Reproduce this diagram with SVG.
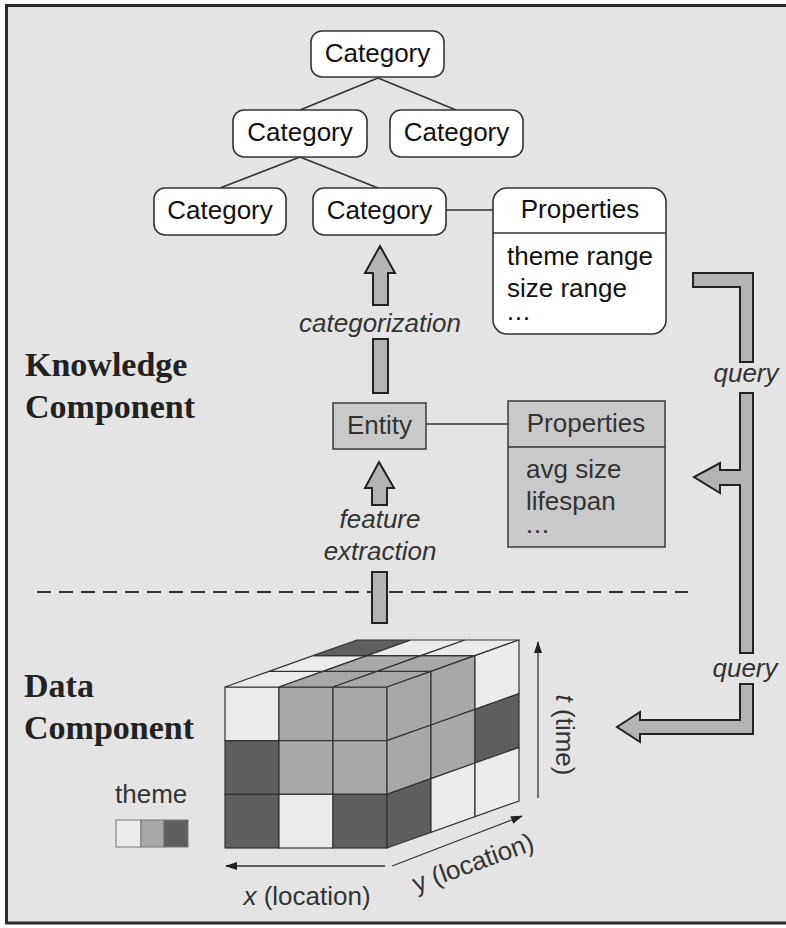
<svg xmlns="http://www.w3.org/2000/svg" width="786" height="928" viewBox="0 0 786 928">
  <defs>
    <style>
      .lbl { font-family: "Liberation Sans", Arial, sans-serif; font-size: 26px; fill: #111; }
      .dots { font-family: "Liberation Sans", Arial, sans-serif; font-size: 18px; font-weight: bold; letter-spacing: 3px; }
      .ital { font-family: "Liberation Sans", Arial, sans-serif; font-size: 26px; font-style: italic; fill: #333; }
      .head { font-family: "Liberation Serif", "Times New Roman", serif; font-size: 34px; font-weight: bold; fill: #222; }
      .cat { fill: #ffffff; stroke: #333; stroke-width: 1.6; }
      .gbox { fill: #c9c9c9; stroke: #444; stroke-width: 1.6; }
      .link { stroke: #333; stroke-width: 1.6; fill: none; }
      .band { fill: #b3b3b3; stroke: #222; stroke-width: 2; stroke-linejoin: miter; }
      .axis { stroke: #333; stroke-width: 1.3; fill: none; }
      .lt { fill: #ebebeb; stroke: #333; stroke-width: 1.2; }
      .md { fill: #a8a8a8; stroke: #333; stroke-width: 1.2; }
      .dk { fill: #5e5e5e; stroke: #333; stroke-width: 1.2; }
    </style>
    <marker id="tip" viewBox="0 0 12 8" refX="11" refY="4" markerWidth="12" markerHeight="8" markerUnits="userSpaceOnUse" orient="auto">
      <path d="M0,0 L12,4 L0,8 z" fill="#222"/>
    </marker>
  </defs>

  <!-- page and frame -->
  <rect x="0" y="0" width="786" height="928" fill="#ffffff"/>
  <rect x="6.5" y="5.5" width="790" height="917.5" fill="#e4e4e4" stroke="#2a2a2a" stroke-width="3"/>

  <!-- section titles -->
  <g id="title-knowledge">
    <text class="head" x="25" y="376">Knowledge</text>
    <text class="head" x="25" y="418">Component</text>
  </g>
  <g id="title-data">
    <text class="head" x="24" y="697">Data</text>
    <text class="head" x="24" y="739">Component</text>
  </g>

  <!-- boundary between the two components -->
  <line x1="37" y1="592" x2="688" y2="592" stroke="#333" stroke-width="2" stroke-dasharray="14 8"/>

  <!-- connectors -->
  <g id="connectors">
    <line class="link" x1="378" y1="78" x2="300" y2="110"/>
    <line class="link" x1="378" y1="78" x2="456" y2="110"/>
    <line class="link" x1="300" y1="157" x2="220" y2="188"/>
    <line class="link" x1="300" y1="157" x2="378" y2="188"/>
    <line class="link" x1="446" y1="210" x2="493" y2="210"/>
    <line class="link" x1="426" y1="424" x2="508" y2="424"/>

    <!-- categorization arrow -->
    <polygon class="band" points="380,246 395,273 388,273 388,305 373,305 373,273 365,273"/>
    <rect class="band" x="373" y="339" width="15" height="54"/>

    <!-- feature extraction arrow -->
    <polygon class="band" points="379,462 394,488 387,488 387,505 372,505 372,488 365,488"/>
    <rect class="band" x="372" y="572" width="15" height="51"/>

    <!-- query path -->
    <polygon class="band" points="693,273 753,273 753,362 740,362 740,287 693,287"/>
    <polygon class="band" points="740,393 753,393 753,653 740,653 740,485 720,485 720,493 694,477 720,463 720,470 740,470"/>
    <polygon class="band" points="740,684 753,684 753,734 640,734 640,742 617,727 640,712 640,720 740,720"/>
  </g>

  <!-- connector labels -->
  <text class="ital" x="380" y="332" text-anchor="middle">categorization</text>
  <text class="ital" x="380" y="528" text-anchor="middle">feature</text>
  <text class="ital" x="380" y="560" text-anchor="middle">extraction</text>
  <text class="ital" x="746" y="382" text-anchor="middle">query</text>
  <text class="ital" x="745" y="677" text-anchor="middle">query</text>

  <!-- category hierarchy -->
  <g id="cat-root">
    <rect class="cat" x="311" y="31" width="133" height="46" rx="11"/>
    <text class="lbl" x="377.5" y="62" text-anchor="middle">Category</text>
  </g>
  <g id="cat-left">
    <rect class="cat" x="233" y="110" width="134" height="47" rx="11"/>
    <text class="lbl" x="300" y="141" text-anchor="middle">Category</text>
  </g>
  <g id="cat-right">
    <rect class="cat" x="390" y="110" width="133" height="47" rx="11"/>
    <text class="lbl" x="456.5" y="141" text-anchor="middle">Category</text>
  </g>
  <g id="cat-left-a">
    <rect class="cat" x="154" y="188" width="132" height="47" rx="11"/>
    <text class="lbl" x="220" y="219" text-anchor="middle">Category</text>
  </g>
  <g id="cat-left-b">
    <rect class="cat" x="313" y="188" width="133" height="47" rx="11"/>
    <text class="lbl" x="379.5" y="219" text-anchor="middle">Category</text>
  </g>

  <!-- category properties -->
  <g id="category-properties">
    <rect class="cat" x="493" y="188" width="173" height="146" rx="14"/>
    <line class="link" x1="493" y1="233" x2="666" y2="233"/>
    <text class="lbl" x="580" y="218" text-anchor="middle">Properties</text>
    <text class="lbl" x="507" y="265">theme range</text>
    <text class="lbl" x="507" y="297">size range</text>
    <text class="dots" x="508" y="320" fill="#111">...</text>
  </g>

  <!-- entity -->
  <g id="entity">
    <rect class="gbox" x="333" y="403" width="93" height="46"/>
    <text class="lbl" x="379.5" y="434" text-anchor="middle" style="fill:#333">Entity</text>
  </g>

  <!-- entity properties -->
  <g id="entity-properties">
    <rect class="gbox" x="508" y="401" width="157" height="146"/>
    <line class="link" x1="508" y1="447" x2="665" y2="447"/>
    <text class="lbl" x="586" y="432" text-anchor="middle" style="fill:#333">Properties</text>
    <text class="lbl" x="526" y="478" style="fill:#333">avg size</text>
    <text class="lbl" x="526" y="510" style="fill:#333">lifespan</text>
    <text class="dots" x="527" y="533" fill="#333">...</text>
  </g>

  <!-- space-time data cube -->
  <g id="data-cube">
    <!-- front face -->
    <rect class="lt" x="225" y="687" width="54" height="53.67"/>
    <rect class="md" x="279" y="687" width="54" height="53.67"/>
    <rect class="md" x="333" y="687" width="54" height="53.67"/>
    <rect class="dk" x="225" y="740.67" width="54" height="53.67"/>
    <rect class="md" x="279" y="740.67" width="54" height="53.67"/>
    <rect class="md" x="333" y="740.67" width="54" height="53.67"/>
    <rect class="dk" x="225" y="794.33" width="54" height="53.67"/>
    <rect class="lt" x="279" y="794.33" width="54" height="53.67"/>
    <rect class="dk" x="333" y="794.33" width="54" height="53.67"/>
    <!-- top face -->
    <polygon class="lt" points="225,687 279,687 323,671.33 269,671.33"/>
    <polygon class="md" points="279,687 333,687 377,671.33 323,671.33"/>
    <polygon class="md" points="333,687 387,687 431,671.33 377,671.33"/>
    <polygon class="lt" points="269,671.33 323,671.33 367,655.67 313,655.67"/>
    <polygon class="md" points="323,671.33 377,671.33 421,655.67 367,655.67"/>
    <polygon class="md" points="377,671.33 431,671.33 475,655.67 421,655.67"/>
    <polygon class="dk" points="313,655.67 367,655.67 411,640 357,640"/>
    <polygon class="lt" points="367,655.67 421,655.67 465,640 411,640"/>
    <polygon class="lt" points="421,655.67 475,655.67 519,640 465,640"/>
    <!-- right face -->
    <polygon class="md" points="387,687 431,671.33 431,725 387,740.67"/>
    <polygon class="md" points="431,671.33 475,655.67 475,709.33 431,725"/>
    <polygon class="lt" points="475,655.67 519,640 519,693.67 475,709.33"/>
    <polygon class="md" points="387,740.67 431,725 431,778.67 387,794.33"/>
    <polygon class="md" points="431,725 475,709.33 475,763 431,778.67"/>
    <polygon class="dk" points="475,709.33 519,693.67 519,747.33 475,763"/>
    <polygon class="dk" points="387,794.33 431,778.67 431,832.33 387,848"/>
    <polygon class="lt" points="431,778.67 475,763 475,816.67 431,832.33"/>
    <polygon class="lt" points="475,763 519,747.33 519,801 475,816.67"/>
  </g>

  <!-- cube axes -->
  <g id="axes">
    <line class="axis" x1="538" y1="798" x2="538" y2="642" marker-end="url(#tip)"/>
    <line class="axis" x1="385" y1="866" x2="226" y2="866" marker-end="url(#tip)"/>
    <line class="axis" x1="392" y1="866" x2="522" y2="816" marker-end="url(#tip)"/>
    <text class="lbl" x="565" y="735" text-anchor="middle" transform="rotate(90 565 735)" style="fill:#333" dy="9"><tspan font-style="italic">t</tspan> (time)</text>
    <text class="lbl" x="307" y="905" text-anchor="middle" style="fill:#333"><tspan font-style="italic">x</tspan> (location)</text>
    <text class="lbl" x="476" y="871" text-anchor="middle" transform="rotate(-20 476 871)" style="fill:#333">y (location)</text>
  </g>

  <!-- theme legend -->
  <g id="legend">
    <text class="lbl" x="115" y="803" style="fill:#333">theme</text>
    <rect x="116" y="820" width="25" height="27" fill="#ebebeb" stroke="#777" stroke-width="1"/>
    <rect x="141" y="820" width="23" height="27" fill="#a8a8a8" stroke="#777" stroke-width="1"/>
    <rect x="164" y="820" width="24" height="27" fill="#5e5e5e" stroke="#777" stroke-width="1"/>
  </g>
</svg>
